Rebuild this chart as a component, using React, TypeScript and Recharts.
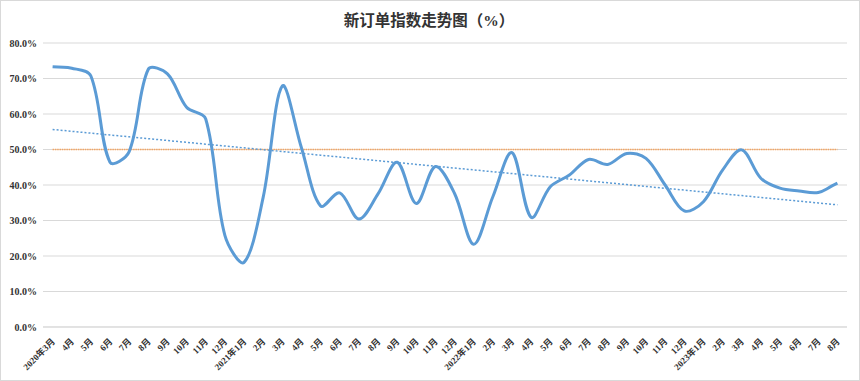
import React from "react";
import { CartesianGrid, Line, LineChart, XAxis, YAxis } from "recharts";

// x-axis labels, 2020年3月 … 2023年8月
const months = [
  "2020年3月", "4月", "5月", "6月", "7月", "8月", "9月", "10月", "11月", "12月",
  "2021年1月", "2月", "3月", "4月", "5月", "6月", "7月", "8月", "9月", "10月", "11月", "12月",
  "2022年1月", "2月", "3月", "4月", "5月", "6月", "7月", "8月", "9月", "10月", "11月", "12月",
  "2023年1月", "2月", "3月", "4月", "5月", "6月", "7月", "8月",
];

// 新订单指数 (%)
const newOrders = [
  73.3, 72.9, 70.7, 46.4, 49.4, 72.6, 71.3, 61.9, 58.6, 25.8,
  18.2, 36.5, 67.9, 50.5, 34.1, 37.8, 30.4, 37.5, 46.4, 34.8, 45.2, 37.6,
  23.3, 36.7, 49.1, 30.9, 39.5, 42.8, 47.2, 45.8, 48.9, 47.5, 40.0, 32.7,
  35.3, 44.2, 49.9, 41.9, 39.1, 38.3, 37.9, 40.5,
];

const threshold = 50;
const yTicks = [0, 10, 20, 30, 40, 50, 60, 70, 80];

// linear trend line like the spreadsheet's, fitted to the series
function linearFit(values: number[]) {
  const n = values.length;
  const mx = (n - 1) / 2;
  const my = values.reduce((a, b) => a + b, 0) / n;
  let sxy = 0;
  let sxx = 0;
  values.forEach((v, i) => {
    sxy += (i - mx) * (v - my);
    sxx += (i - mx) * (i - mx);
  });
  const slope = sxy / sxx;
  return values.map((_, i) => my + slope * (i - mx));
}

const trend = linearFit(newOrders);

const data = months.map((m, i) => ({
  month: m,
  value: newOrders[i],
  line50: threshold,
  trend: trend[i],
}));

// smoothed line: Catmull-Rom tangent, split between the two chords by length
function smoothCurve(context: any) {
  let pts: number[][] = [];
  const dist = (a: number[], b: number[]) => Math.hypot(b[0] - a[0], b[1] - a[1]);
  // handle at point i towards side (+1 next, -1 previous)
  const handle = (i: number, side: number) => {
    const a = pts[i - 1] || pts[i];
    const b = pts[i + 1] || pts[i];
    const da = dist(a, pts[i]);
    const db = dist(pts[i], b);
    const sum = da + db || 1;
    const w = (side > 0 ? db : da) / sum / 3;
    const f = pts[i - 1] && pts[i + 1] ? w : w * 2;
    return [(b[0] - a[0]) * f * side, (b[1] - a[1]) * f * side];
  };
  return {
    areaStart() {},
    areaEnd() {},
    lineStart() {
      pts = [];
    },
    lineEnd() {
      if (!pts.length) return;
      context.moveTo(pts[0][0], pts[0][1]);
      for (let i = 0; i < pts.length - 1; i++) {
        const p1 = pts[i];
        const p2 = pts[i + 1];
        const h1 = handle(i, 1);
        const h2 = handle(i + 1, -1);
        context.bezierCurveTo(p1[0] + h1[0], p1[1] + h1[1], p2[0] + h2[0], p2[1] + h2[1], p2[0], p2[1]);
      }
    },
    point(x: number, y: number) {
      pts.push([+x, +y]);
    },
  };
}

const FONT = '"Liberation Serif", "Times New Roman", "Noto Sans CJK SC", serif';

const MonthTick = (props: any) => {
  const { x, y, payload } = props;
  return (
    <text
      x={x + 3}
      y={y + 7}
      transform={`rotate(-45, ${x + 3}, ${y + 7})`}
      textAnchor="end"
      fontSize={9}
      fontWeight="bold"
      fill="#333"
      fontFamily={FONT}
    >
      {payload.value}
    </text>
  );
};

export default function App() {
  return (
    <div
      style={{
        position: "relative",
        width: 860,
        height: 381,
        border: "1px solid #d9d9d9",
        boxSizing: "border-box",
        background: "#fff",
      }}
    >
      <style>{"body{margin:0}"}</style>
      <div
        style={{
          position: "absolute",
          top: 7,
          left: 0,
          width: 856,
          textAlign: "center",
          fontSize: 15.5,
          fontWeight: "bold",
          color: "#333",
          fontFamily: FONT,
        }}
      >
        新订单指数走势图（%）
      </div>
      <div style={{ position: "absolute", top: -1, left: -1 }}>
        <LineChart
          width={860}
          height={381}
          data={data}
          margin={{ top: 43, right: 13, bottom: 0, left: 0 }}
        >
          <CartesianGrid vertical={false} stroke="#d9d9d9" strokeWidth={1} />
          <XAxis
            dataKey="month"
            interval={0}
            height={54}
            padding={{ left: 9.6, right: 9.6 }}
            axisLine={{ stroke: "#d9d9d9" }}
            tickLine={false}
            tick={<MonthTick />}
          />
          <YAxis
            width={43}
            domain={[0, 80]}
            ticks={yTicks}
            axisLine={false}
            tickLine={false}
            tickSize={0}
            tickMargin={6}
            tickFormatter={(v: number) => `${v.toFixed(1)}%`}
            tick={{ fontSize: 10, fontWeight: "bold", fill: "#333", fontFamily: FONT }}
          />
          <Line
            dataKey="line50"
            stroke="#F4A460"
            strokeWidth={1.5}
            strokeDasharray="1.5 0.8"
            dot={false}
            activeDot={false}
            isAnimationActive={false}
          />
          <Line
            dataKey="trend"
            stroke="#5B9BD5"
            strokeWidth={1.5}
            strokeDasharray="2 2"
            dot={false}
            activeDot={false}
            isAnimationActive={false}
          />
          <Line
            dataKey="value"
            type={smoothCurve as any}
            stroke="#5B9BD5"
            strokeWidth={3}
            dot={false}
            activeDot={false}
            isAnimationActive={false}
          />
        </LineChart>
      </div>
    </div>
  );
}
